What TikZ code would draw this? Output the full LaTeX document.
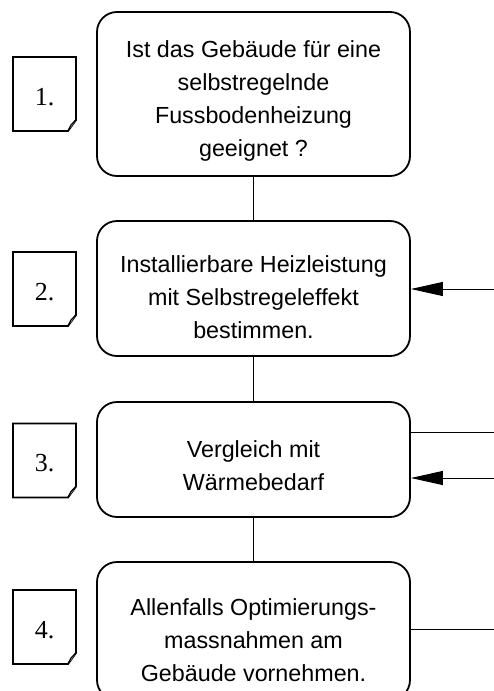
\documentclass[tikz,border=0pt]{standalone}
\usepackage{fontspec}
\setmainfont{Liberation Serif}
\newfontfamily\arial{Liberation Sans}
\usetikzlibrary{arrows.meta}

\begin{document}
\begin{tikzpicture}[x=1pt,y=-1pt,
                schritt/.style={draw,line width=1.8pt,rounded corners=20pt,minimum width=313pt},
                schrift/.style={font=\arial\fontsize{23.3}{33}\selectfont,align=center,inner sep=0pt},
                notiz/.style={draw,line width=1.8pt,line join=miter,fill=white},
                nummer/.style={font=\fontsize{26}{30}\selectfont,inner sep=0pt},
                linie/.style={line width=1pt},
                pfeil/.style={line width=1pt,-{Triangle[length=32pt,width=14pt]}}
                ]
                \useasboundingbox (0,0) rectangle (494,691);
                % Schritte
                \node [schritt,minimum height=164pt] (s1) at (253.5,94) {};
                \node [schritt,minimum height=135pt] (s2) at (253.5,288.5) {};
                \node [schritt,minimum height=115pt] (s3) at (253.5,459.5) {};
                \node [schritt,minimum height=138pt] (s4) at (253.5,631) {};
                \node [schrift] (t1) at (253.5,101) {Ist das Gebäude für eine\\selbstregelnde\\Fussbodenheizung\\geeignet ?};
                \node [schrift] (t2) at (253.5,297.5) {Installierbare Heizleistung\\mit Selbstregeleffekt\\bestimmen.};
                \node [schrift] (t3) at (253.5,466) {Vergleich mit\\Wärmebedarf};
                \node [schrift] (t4) at (253.5,640) {Allenfalls Optimierungs-\\massnahmen am\\Gebäude vornehmen.};
                % Nummern
                \foreach \n/\y in {1/94,2/289,3/460.5,4/627} {
                    \draw [notiz] (13,\y-37) -- (76,\y-37) -- (76,\y+26) -- (68,\y+37) -- (13,\y+37) -- cycle;
                    \draw [notiz,line width=1.2pt] (68,\y+37) -- (71,\y+31) -- (76,\y+26);
                    \node [nummer] (n\n) at (44.5,\y+3) {\n.};
                }
                % Verbindungen
                \draw [linie] (s1.south) -- (s2.north);
                \draw [linie] (s2.south) -- (s3.north);
                \draw [linie] (s3.south) -- (s4.north);
                \coordinate (e2) at (494,289);
                \coordinate (a3) at (494,432);
                \coordinate (e3) at (494,478);
                \coordinate (a4) at (494,629);
                \draw [pfeil] (e2) -- (s2.east |- e2);
                \draw [linie] (s3.east |- a3) -- (a3);
                \draw [pfeil] (e3) -- (s3.east |- e3);
                \draw [linie] (s4.east |- a4) -- (a4);
            \end{tikzpicture}
\end{document}
